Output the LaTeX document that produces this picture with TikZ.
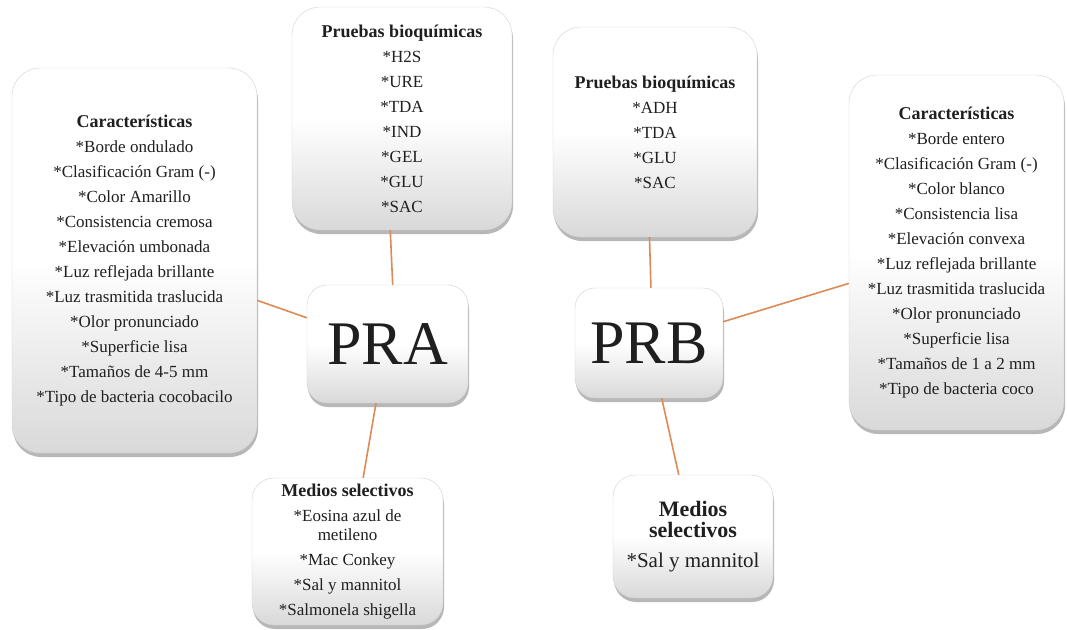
\documentclass[tikz,border=0pt]{standalone}
\usepackage{fontspec}
\setmainfont{Liberation Serif}
\usepackage{tikz}
\usetikzlibrary{positioning,shadows}
\definecolor{linkorange}{RGB}{222,138,86}
\definecolor{boxline}{RGB}{210,210,210}
\newcommand{\boxtitle}[1]{{\bfseries\fontsize{18}{25}\selectfont #1}}

\begin{document}
\begin{tikzpicture}[x=1pt, y=-1pt,
    infobox/.style={rectangle, rounded corners=28pt, draw=boxline, thin, top color=white, bottom color=black!15, middle color=white, drop shadow={shadow xshift=1pt, shadow yshift=-4pt, opacity=.4, fill=black!70}, align=center, inner sep=0pt, text=black!88, font=\fontsize{17}{25}\selectfont},
    keynode/.style={infobox, rounded corners=20pt, font=\fontsize{62}{62}\selectfont},
    link/.style={draw=linkorange, line width=1.6pt}
]
\useasboundingbox[fill=white] (0,0) rectangle (1067,629);
\node[infobox, minimum width=245pt, minimum height=385pt](caracA) at (134.5,260.5){\boxtitle{Características}\\*Borde ondulado\\*Clasificación Gram (-)\\*Color Amarillo\\*Consistencia cremosa\\*Elevación umbonada\\*Luz reflejada brillante\\*Luz trasmitida traslucida\\*Olor pronunciado\\*Superficie lisa\\*Tamaños de 4-5 mm\\*Tipo de bacteria cocobacilo};
\node[infobox, minimum width=220pt, minimum height=223pt](pruebasA) at (402,118.5){\boxtitle{Pruebas bioquímicas}\\*H2S\\*URE\\*TDA\\*IND\\*GEL\\*GLU\\*SAC};
\node[keynode, minimum width=161pt, minimum height=118pt](pra) at (387.5,344){PRA};
\node[infobox, rounded corners=22pt, minimum width=191pt, minimum height=147pt](mediosA) at (347.5,551.5){\boxtitle{Medios selectivos}\\*Eosina azul de\\[-6pt]metileno\\*Mac Conkey\\*Sal y mannitol\\*Salmonela shigella};
\node[infobox, minimum width=204pt, minimum height=210pt](pruebasB) at (655,132){\boxtitle{Pruebas bioquímicas}\\*ADH\\*TDA\\*GLU\\*SAC};
\node[keynode, minimum width=148pt, minimum height=110pt](prb) at (649,343){PRB};
\node[infobox, rounded corners=22pt, minimum width=160pt, minimum height=123pt, font=\fontsize{21}{21}\selectfont](mediosB) at (693,536.5){{\bfseries\fontsize{22}{21}\selectfont Medios}\\{\bfseries\fontsize{22}{21}\selectfont selectivos}\\[9pt]*Sal y mannitol};
\node[infobox, minimum width=215pt, minimum height=355pt](caracB) at (956.5,252.5){\boxtitle{Características}\\*Borde entero\\*Clasificación Gram (-)\\*Color blanco\\*Consistencia lisa\\*Elevación convexa\\*Luz reflejada brillante\\*Luz trasmitida traslucida\\*Olor pronunciado\\*Superficie lisa\\*Tamaños de 1 a 2 mm\\*Tipo de bacteria coco};
\draw[link] (caracA.342.6) -- (pra.162.1);
\draw[link] (pruebasA.264.9) -- (pra.85.6);
\draw[link] (pra.259) -- (mediosA.78.8);
\draw[link] (pruebasB.267.8) -- (prb.88);
\draw[link] (prb.16.6) -- (caracB.196.8);
\draw[link] (prb.283.3) -- (mediosB.103.7);
\end{tikzpicture}
\end{document}
